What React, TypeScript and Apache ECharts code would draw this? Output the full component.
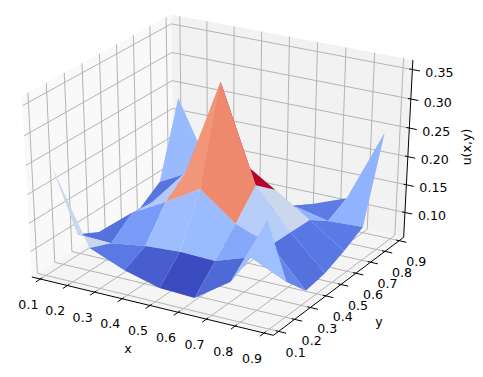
import React, { useEffect, useRef } from "react";
import * as echarts from "echarts";

// ---- data ----
const gridX = [0.125, 0.25, 0.375, 0.5, 0.625, 0.75, 0.875];
const gridY = [0.125, 0.25, 0.375, 0.5, 0.625, 0.75, 0.875];
const uRow0 = [0.243, 0.116, 0.091, 0.074, 0.071, 0.114, 0.234];
const uRow1 = [0.102, 0.100, 0.109, 0.113, 0.111, 0.132, 0.103];
const uRow2 = [0.082, 0.130, 0.163, 0.199, 0.152, 0.129, 0.062];
const uRow3 = [0.076, 0.126, 0.193, 0.359, 0.196, 0.127, 0.068];
const uRow4 = [0.078, 0.128, 0.156, 0.204, 0.165, 0.125, 0.083];
const uRow5 = [0.103, 0.135, 0.119, 0.099, 0.113, 0.099, 0.102];
const uRow6 = [0.234, 0.110, 0.088, 0.068, 0.093, 0.117, 0.246];
const uRows = [uRow0, uRow1, uRow2, uRow3, uRow4, uRow5, uRow6];
const xTicks = ["0.1", "0.2", "0.3", "0.4", "0.5", "0.6", "0.7", "0.8", "0.9"];
const yTicks = ["0.1", "0.2", "0.3", "0.4", "0.5", "0.6", "0.7", "0.8", "0.9"];
const zTicks = ["0.10", "0.15", "0.20", "0.25", "0.30", "0.35"];
const coolwarm = ["#3b4cc0", "#5977e3", "#7b9ff9", "#9ebeff", "#c0d4f5", "#dddcdc", "#f2cbb7", "#f7ac8e", "#ee8468", "#d65244", "#b40426"];

// ---- 3D view: elev 30, azim -60, dist 10 ----
const XL = [0.068, 0.932], YL = [0.068, 0.932], ZL = [0.0545, 0.366];
const SX = 2789.5, SY = 2067.95, OX = 220.6, OY = 169.47;
const E = (30 * Math.PI) / 180, A = (-60 * Math.PI) / 180;
const W = [Math.cos(E) * Math.cos(A), Math.cos(E) * Math.sin(A), Math.sin(E)];
const Un = Math.hypot(W[0], W[1]);
const U = [-W[1] / Un, W[0] / Un, 0];
const V = [W[1] * U[2] - W[2] * U[1], W[2] * U[0] - W[0] * U[2], W[0] * U[1] - W[1] * U[0]];
const view = (x: number, y: number, z: number) => {
  const p = [(x - XL[0]) / (XL[1] - XL[0]) - 0.5, (y - YL[0]) / (YL[1] - YL[0]) - 0.5, (z - ZL[0]) / (ZL[1] - ZL[0]) - 0.5];
  const dot = (q: number[]) => q[0] * p[0] + q[1] * p[1] + q[2] * p[2];
  const d = dot(W);
  return { sx: OX + (SX * dot(U)) / (10 - d), sy: OY - (SY * dot(V)) / (10 - d), d };
};
const pt = (x: number, y: number, z: number) => { const v = view(x, y, z); return [v.sx, v.sy]; };

const hexToRgb = (h: string) => [1, 3, 5].map((k) => parseInt(h.slice(k, k + 2), 16));
const tone = (t: number) => {
  const f = Math.max(0, Math.min(1, t)) * (coolwarm.length - 1);
  const i = Math.min(coolwarm.length - 2, Math.floor(f));
  const a = hexToRgb(coolwarm[i]), b = hexToRgb(coolwarm[i + 1]);
  const c = a.map((v, k) => Math.round(v + (b[k] - v) * (f - i)));
  return `rgb(${c[0]},${c[1]},${c[2]})`;
};

// facets, far ones first; the level counts the first vertex twice (closed ring of five points)
type Facet = { i: number; j: number; level: number; depth: number };
const facets: Facet[] = [];
for (let j = 0; j < gridY.length - 1; j++) {
  for (let i = 0; i < gridX.length - 1; i++) {
    const q = [[i, j], [i + 1, j], [i + 1, j + 1], [i, j + 1]];
    const zs = q.map(([a, b]) => uRows[b][a]);
    const depth = q.reduce((s, [a, b]) => s + view(gridX[a], gridY[b], uRows[b][a]).d, 0) / 4;
    facets.push({ i, j, level: (zs[0] * 2 + zs[1] + zs[2] + zs[3]) / 5, depth });
  }
}
facets.sort((a, b) => a.depth - b.depth);
const levelMin = Math.min(...facets.map((f) => f.level));
const levelMax = Math.max(...facets.map((f) => f.level));

const FONT = "12.6px 'DejaVu Sans'";
const GRIDC = "#b4b4b4";

export default function App() {
  const ref = useRef<HTMLDivElement>(null);
  useEffect(() => {
    const chart = echarts.init(ref.current!, null, { renderer: "svg" });
    const poly = (api: any, pts: number[][], style: any) => ({
      type: "polygon",
      shape: { points: pts.map((p) => api.coord(p)) },
      style,
    });
    const line = (api: any, pts: number[][], color: string, w: number) => ({
      type: "polyline",
      shape: { points: pts.map((p) => api.coord(p)) },
      style: { stroke: color, lineWidth: w, fill: "none" },
    });
    const [x0, x1] = XL, [y0, y1] = YL, [z0, z1] = ZL;

    const panes = [
      { pts: [pt(x0, y0, z0), pt(x0, y1, z0), pt(x0, y1, z1), pt(x0, y0, z1)], c: "#f9f9f9" },
      { pts: [pt(x0, y1, z0), pt(x1, y1, z0), pt(x1, y1, z1), pt(x0, y1, z1)], c: "#f2f2f2" },
      { pts: [pt(x0, y0, z0), pt(x1, y0, z0), pt(x1, y1, z0), pt(x0, y1, z0)], c: "#f5f5f5" },
    ];
    const dxT = (x1 - x0), dyT = (y1 - y0);
    const textEl = (api: any, p: number[], text: string, dx: number, dy: number) => {
      const c = api.coord(p);
      return { type: "text", x: c[0] + dx, y: c[1] + dy, style: { text, fill: "#000", font: FONT, align: "center", verticalAlign: "middle" } };
    };

    chart.setOption({
      animation: false,
      backgroundColor: "#ffffff",
      grid: { left: 0, right: 0, top: 0, bottom: 0 },
      xAxis: { type: "value", min: 0, max: 483, show: false },
      yAxis: { type: "value", min: 0, max: 377, inverse: true, show: false },
      series: [
        {
          type: "custom", coordinateSystem: "cartesian2d", silent: true, clip: false,
          data: panes.map((_, i) => [i]),
          renderItem: (p: any, api: any) => poly(api, panes[p.dataIndex].pts, { fill: panes[p.dataIndex].c }),
        },
        {
          type: "custom", coordinateSystem: "cartesian2d", silent: true, clip: false,
          data: xTicks.map((_, i) => [i]),
          renderItem: (p: any, api: any) => {
            const t = parseFloat(xTicks[p.dataIndex]);
            return line(api, [pt(t, y0, z0), pt(t, y1, z0), pt(t, y1, z1)], GRIDC, 1);
          },
        },
        {
          type: "custom", coordinateSystem: "cartesian2d", silent: true, clip: false,
          data: yTicks.map((_, i) => [i]),
          renderItem: (p: any, api: any) => {
            const t = parseFloat(yTicks[p.dataIndex]);
            return line(api, [pt(x1, t, z0), pt(x0, t, z0), pt(x0, t, z1)], GRIDC, 1);
          },
        },
        {
          type: "custom", coordinateSystem: "cartesian2d", silent: true, clip: false,
          data: zTicks.map((_, i) => [i]),
          renderItem: (p: any, api: any) => {
            const t = parseFloat(zTicks[p.dataIndex]);
            return line(api, [pt(x0, y0, t), pt(x0, y1, t), pt(x1, y1, t)], GRIDC, 1);
          },
        },
        {
          type: "custom", coordinateSystem: "cartesian2d", silent: true, clip: false,
          data: [[0]],
          renderItem: (_p: any, api: any) => ({
            type: "group",
            children: [
              line(api, [pt(x0, y0, z0), pt(x1, y0, z0), pt(x1, y1, z0), pt(x1, y1, z1)], "#000", 1),
            ],
          }),
        },
        {
          type: "custom", coordinateSystem: "cartesian2d", silent: true, clip: false,
          data: xTicks.map((_, i) => [i]),
          renderItem: (p: any, api: any) => {
            const s = xTicks[p.dataIndex], t = parseFloat(s);
            return {
              type: "group",
              children: [
                line(api, [pt(t, y0 + 0.012 * dyT, z0), pt(t, y0 - 0.03 * dyT, z0)], "#000", 1),
                textEl(api, pt(t, y0, z0), s, -12, 25),
              ],
            };
          },
        },
        {
          type: "custom", coordinateSystem: "cartesian2d", silent: true, clip: false,
          data: yTicks.map((_, i) => [i]),
          renderItem: (p: any, api: any) => {
            const s = yTicks[p.dataIndex], t = parseFloat(s);
            return {
              type: "group",
              children: [
                line(api, [pt(x1 - 0.012 * dxT, t, z0), pt(x1 + 0.03 * dxT, t, z0)], "#000", 1),
                textEl(api, pt(x1, t, z0), s, 17, 21),
              ],
            };
          },
        },
        {
          type: "custom", coordinateSystem: "cartesian2d", silent: true, clip: false,
          data: zTicks.map((_, i) => [i]),
          renderItem: (p: any, api: any) => {
            const s = zTicks[p.dataIndex], t = parseFloat(s);
            return {
              type: "group",
              children: [
                line(api, [pt(x1 - 0.012 * dxT, y1, t), pt(x1 + 0.03 * dxT, y1, t)], "#000", 1),
                textEl(api, pt(x1, y1, t), s, 27, 3),
              ],
            };
          },
        },
        {
          type: "custom", coordinateSystem: "cartesian2d", silent: true, clip: false,
          data: facets.map((_, k) => [k]),
          renderItem: (p: any, api: any) => {
            const f = facets[p.dataIndex];
            const q = [[f.i, f.j], [f.i + 1, f.j], [f.i + 1, f.j + 1], [f.i, f.j + 1]];
            return poly(api, q.map(([a, b]) => pt(gridX[a], gridY[b], uRows[b][a])), {
              fill: tone((f.level - levelMin) / (levelMax - levelMin)),
            });
          },
        },
      ],
      graphic: [
        { type: "text", x: 128, y: 348, style: { text: "x", fill: "#000", font: FONT, align: "center", verticalAlign: "middle" } },
        { type: "text", x: 379, y: 321, style: { text: "y", fill: "#000", font: FONT, align: "center", verticalAlign: "middle" } },
        { type: "text", x: 466, y: 147, rotation: Math.PI / 2, style: { text: "u(x,y)", fill: "#000", font: FONT, align: "center", verticalAlign: "middle" } },
      ],
    });
    return () => chart.dispose();
  }, []);
  return <div ref={ref} style={{ width: 483, height: 377, position: "absolute", left: 0, top: 0 }} />;
}
